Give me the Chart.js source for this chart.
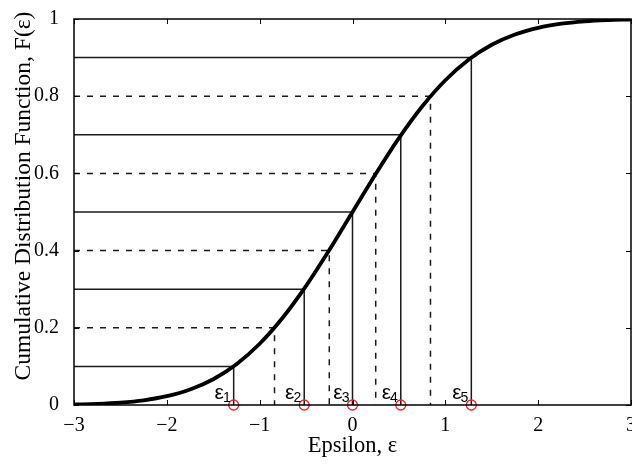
<!DOCTYPE html>
<html>
<head>
<meta charset="utf-8">
<script src="https://cdn.jsdelivr.net/npm/chart.js@4"></script>
<style>
  html, body { margin: 0; padding: 0; background: #fff; overflow: hidden; }
  #wrap { width: 632px; height: 466px; position: relative; }
</style>
</head>
<body>
<div id="wrap"><canvas id="cv"></canvas></div>
<script>
// CDF curve
const epsX = [-3, -2.75, -2.5, -2.25, -2, -1.75, -1.5, -1.25, -1, -0.75, -0.5, -0.25, 0,
              0.25, 0.5, 0.75, 1, 1.25, 1.5, 1.75, 2, 2.25, 2.5, 2.75, 3];
const cdfY = [0.0013, 0.003, 0.0062, 0.0122, 0.0228, 0.0401, 0.0668, 0.1056, 0.1587, 0.2266, 0.3085, 0.4013, 0.5,
              0.5987, 0.6915, 0.7734, 0.8413, 0.8944, 0.9332, 0.9599, 0.9772, 0.9878, 0.9938, 0.997, 0.9987];

// solid levels -> epsilon samples (red circles)
const solidLevels = [0.1, 0.3, 0.5, 0.7, 0.9];
const solidEps    = [-1.28, -0.52, 0, 0.52, 1.28];
// dashed intermediate levels
const dashLevels  = [0.2, 0.4, 0.6, 0.8];
const dashEps     = [-0.84, -0.25, 0.25, 0.84];

const epsSubs = ['1', '2', '3', '4', '5'];

const xTicks = [-3, -2, -1, 0, 1, 2, 3];
const xTickLabels = ['\u22123', '\u22122', '\u22121', '0', '1', '2', '3'];
const yTicks = [0, 0.2, 0.4, 0.6, 0.8, 1];
const yTickLabels = ['0', '0.2', '0.4', '0.6', '0.8', '1'];

const SERIF = '"Liberation Serif", "Times New Roman", serif';
const SANS  = '"Liberation Sans", Arial, sans-serif';

// step line: from left edge across to the curve, then down to the axis
const stepLine = (lvl, e) => [{ x: -3, y: lvl }, { x: e, y: lvl }, { x: e, y: 0 }];

const datasets = [];
solidLevels.forEach((lvl, i) => datasets.push({
  data: stepLine(lvl, solidEps[i]), showLine: true, borderColor: '#1a1a1a', borderWidth: 1.5,
  pointRadius: 0, tension: 0, order: 3
}));
dashLevels.forEach((lvl, i) => datasets.push({
  data: stepLine(lvl, dashEps[i]), showLine: true, borderColor: '#1a1a1a', borderWidth: 1.5,
  borderDash: [6, 7], pointRadius: 0, tension: 0, order: 3
}));
datasets.push({
  data: epsX.map((x, i) => ({ x, y: cdfY[i] })), showLine: true, borderColor: '#000', borderWidth: 3.8,
  pointRadius: 0, cubicInterpolationMode: 'monotone', order: 2, borderJoinStyle: 'round'
});
datasets.push({
  data: solidEps.map(x => ({ x, y: 0 })), showLine: false, pointRadius: 5, pointBorderWidth: 1.3,
  pointBorderColor: '#e8282a', pointBackgroundColor: 'rgba(0,0,0,0)', order: 1, clip: false
});

const frame = {
  id: 'frame',
  afterDraw(chart) {
    const { ctx, chartArea: a, scales: { x, y } } = chart;
    ctx.save();
    ctx.strokeStyle = '#000'; ctx.lineWidth = 1.5;
    ctx.strokeRect(a.left, a.top, a.right - a.left, a.bottom - a.top);
    ctx.lineWidth = 1;
    ctx.beginPath();
    xTicks.forEach(v => {
      const px = Math.round(x.getPixelForValue(v)) + 0.5;
      ctx.moveTo(px, a.bottom); ctx.lineTo(px, a.bottom - 5);
      ctx.moveTo(px, a.top);    ctx.lineTo(px, a.top + 5);
    });
    yTicks.forEach(v => {
      const py = Math.round(y.getPixelForValue(v)) + 0.5;
      ctx.moveTo(a.left, py);  ctx.lineTo(a.left + 5, py);
      ctx.moveTo(a.right, py); ctx.lineTo(a.right - 5, py);
    });
    ctx.stroke();

    // epsilon labels next to each sample
    const y0 = y.getPixelForValue(0);
    solidEps.forEach((e, i) => {
      const right = x.getPixelForValue(e) - 3;
      ctx.font = '14px ' + SANS;
      const sw = ctx.measureText(epsSubs[i]).width;
      ctx.fillStyle = '#000';
      ctx.textAlign = 'left'; ctx.textBaseline = 'alphabetic';
      ctx.fillText(epsSubs[i], right - sw, y0 - 3);
      ctx.font = '21px ' + SANS;
      const ew = ctx.measureText('\u03b5').width;
      ctx.fillText('\u03b5', right - sw - ew + 1, y0 - 6);
    });

    // y axis title
    ctx.translate(24, (a.top + a.bottom) / 2 - 16);
    ctx.rotate(-Math.PI / 2);
    ctx.font = '23.5px ' + SERIF;
    ctx.textAlign = 'center'; ctx.textBaseline = 'middle';
    ctx.fillText('Cumulative Distribution Function, F(\u03b5)', 0, 0);
    ctx.restore();
  }
};

new Chart(document.getElementById('cv'), {
  type: 'scatter',
  data: { datasets },
  options: {
    responsive: true, maintainAspectRatio: false, animation: false,
    layout: { autoPadding: false, padding: { top: 19, right: 1, left: 0, bottom: 0 } },
    plugins: { legend: { display: false }, tooltip: { enabled: false } },
    scales: {
      x: {
        type: 'linear', min: -3, max: 3,
        afterFit: s => { s.height = 61; s.paddingLeft = 0; s.paddingRight = 0; },
        afterBuildTicks: s => { s.ticks = xTicks.map(v => ({ value: v })); },
        grid: { display: false }, border: { display: false },
        ticks: {
          color: '#000', padding: 1, maxRotation: 0, autoSkip: false,
          font: { family: SERIF, size: 20 },
          callback: (v, i) => xTickLabels[i]
        },
        title: { display: true, text: 'Epsilon, \u03b5', color: '#000', font: { family: SERIF, size: 22.5 }, padding: { top: 0, bottom: 6 } }
      },
      y: {
        type: 'linear', min: 0, max: 1,
        afterFit: s => { s.width = 74; s.paddingTop = 0; s.paddingBottom = 0; },
        afterBuildTicks: s => { s.ticks = yTicks.map(v => ({ value: v })); },
        grid: { display: false }, border: { display: false },
        ticks: {
          color: '#000', padding: 7, autoSkip: false,
          font: { family: SERIF, size: 20 },
          callback: (v, i) => yTickLabels[i]
        }
      }
    }
  },
  plugins: [frame]
});
</script>
</body>
</html>
